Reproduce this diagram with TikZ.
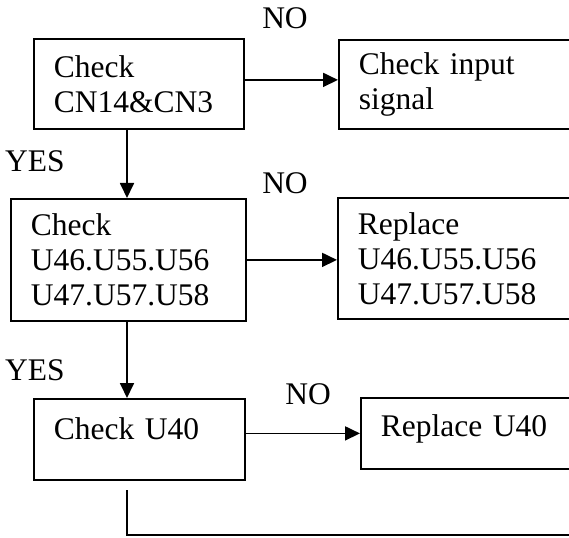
\documentclass[tikz,border=0pt]{standalone}
\usepackage{fontspec}
\setmainfont{Liberation Serif}
\usetikzlibrary{arrows.meta}

\begin{document}
\begin{tikzpicture}[x=1pt, y=-1pt,
  >={Triangle[length=15pt,width=14pt]},
  stepbox/.style={draw, line width=1.8pt, anchor=north west, align=left,
    inner xsep=20pt, inner ysep=0pt, font=\fontsize{31.5}{35}\selectfont},
  tag/.style={font=\fontsize{31.5}{35}\selectfont},
  flow/.style={->, line width=1.8pt},
]
\useasboundingbox (0,0) rectangle (569,537);
\clip (0,0) rectangle (569,537);

% ---------- left column: checks ----------
\node[stepbox, minimum width=210pt, minimum height=90pt, text width=170pt] (cn) at (33,38) {Check\\CN14\&CN3};
\node[stepbox, minimum width=235pt, minimum height=122pt, text width=195pt] (ua) at (10,198) {Check\\U46.U55.U56\\U47.U57.U58};
\node[stepbox, minimum width=211pt, minimum height=81pt, text width=171pt, text depth=22pt] (u40) at (33,398) {Check U40};

% ---------- right column: actions (cut at the edge) ----------
\node[stepbox, minimum width=262pt, minimum height=89pt, text width=222pt] (sig) at (338,39) {Check input\\signal};
\node[stepbox, minimum width=262pt, minimum height=121pt, text width=222pt] (rep) at (337,197) {Replace\\U46.U55.U56\\U47.U57.U58};
\node[stepbox, minimum width=240pt, minimum height=71pt, text width=200pt, text depth=16pt] (repu) at (360,397) {Replace U40};

% ---------- branch labels ----------
\node[tag] (no1) at (285,18) {NO};
\node[tag] (no2) at (285,183) {NO};
\node[tag] (no3) at (308,394) {NO};
\node[tag] (yes1) at (35,161) {YES};
\node[tag] (yes2) at (35,370) {YES};

% ---------- connectors ----------
\coordinate (stem) at (127,0);
\draw[flow] (cn.south -| stem) -- (ua.north -| stem);
\draw[flow] (ua.south -| stem) -- (u40.north -| stem);
\draw[flow] ([yshift=4pt]cn.east) -- ([yshift=4pt]cn.east -| sig.west);
\draw[flow] (ua.east) -- (ua.east -| rep.west);
\draw[flow] ([yshift=6pt]u40.east) -- ([yshift=6pt]u40.east -| repu.west);

% return line at the bottom
\coordinate (back) at (127,490);
\coordinate (backend) at (600,535);
\draw[line width=1.8pt] (back) |- (backend);

\end{tikzpicture}
\end{document}
